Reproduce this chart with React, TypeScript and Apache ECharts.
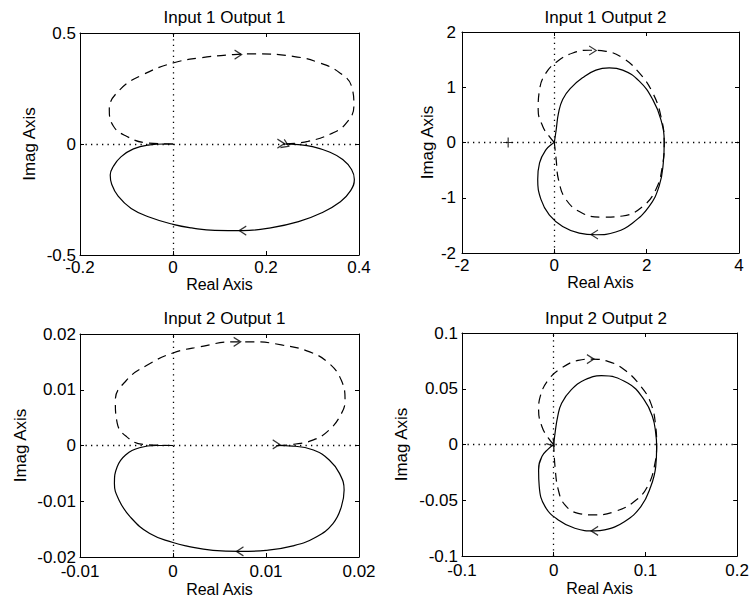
import React, { useEffect, useRef } from "react";
import * as echarts from "echarts";

// ---------- text ----------
const panelTitles = ["Input 1 Output 1", "Input 1 Output 2", "Input 2 Output 1", "Input 2 Output 2"];
const xAxisName = "Real Axis";
const yAxisName = "Imag Axis";

// ---------- axis ranges [min, max, interval] ----------
const xRanges = [
  [-0.2, 0.4, 0.2],
  [-2, 4, 2],
  [-0.01, 0.02, 0.01],
  [-0.1, 0.2, 0.1],
];
const yRanges = [
  [-0.5, 0.5, 0.5],
  [-2, 2, 1],
  [-0.02, 0.02, 0.01],
  [-0.1, 0.1, 0.05],
];

// ---------- Input 1 Output 1 ----------
const solid11 = [
  [0.237, 0], [0.27, -0.003], [0.3, -0.012], [0.335, -0.035], [0.365, -0.07], [0.384, -0.115],
  [0.39, -0.16], [0.382, -0.21], [0.36, -0.26], [0.32, -0.31], [0.27, -0.35], [0.21, -0.378],
  [0.15, -0.39], [0.09, -0.389], [0.04, -0.378], [0, -0.362], [-0.05, -0.33], [-0.09, -0.29],
  [-0.118, -0.235], [-0.132, -0.18], [-0.135, -0.14], [-0.128, -0.1], [-0.112, -0.058],
  [-0.085, -0.022], [-0.05, -0.004], [-0.02, 0], [0, 0],
];
const dashed11 = [
  [0, 0], [-0.057, 0.005], [-0.1, 0.035], [-0.128, 0.08], [-0.137, 0.155], [-0.114, 0.245],
  [-0.064, 0.313], [0, 0.365], [0.058, 0.388], [0.13, 0.403], [0.173, 0.406], [0.258, 0.395],
  [0.316, 0.365], [0.359, 0.32], [0.384, 0.26], [0.389, 0.17], [0.373, 0.095], [0.344, 0.05],
  [0.29, 0.012], [0.237, 0],
];
const arrows11 = [[0.14, 0.403], [0.15, -0.39], [0.232, 0.002], [0.242, -0.004]];
const arrowDirs11 = [0, 180, 0, -25];

// ---------- Input 1 Output 2 ----------
const solid12 = [
  [0, 0], [0.04, 0.23], [0.09, 0.53], [0.18, 0.78], [0.36, 0.99], [0.61, 1.17], [0.9, 1.31],
  [1.19, 1.35], [1.48, 1.31], [1.84, 1.11], [2.13, 0.78], [2.31, 0.41], [2.38, 0],
  [2.36, -0.37], [2.27, -0.79], [2.05, -1.16], [1.69, -1.46], [1.33, -1.62], [0.9, -1.67],
  [0.54, -1.64], [0.18, -1.52], [-0.11, -1.31], [-0.29, -1.03], [-0.36, -0.67], [-0.32, -0.37],
  [-0.18, -0.13], [-0.04, -0.02], [0, 0],
];
const dashed12 = [
  [0, 0], [-0.11, 0.11], [-0.25, 0.29], [-0.35, 0.59], [-0.32, 0.96], [-0.18, 1.26], [0.07, 1.47],
  [0.4, 1.62], [0.76, 1.67], [1.12, 1.65], [1.48, 1.53], [1.84, 1.26], [2.13, 0.9], [2.31, 0.47],
  [2.38, 0], [2.34, -0.43], [2.2, -0.85], [1.91, -1.16], [1.48, -1.33], [1.05, -1.35],
  [0.61, -1.28], [0.25, -1.03], [0.09, -0.67], [0.04, -0.31], [0, 0],
];
const arrows12 = [[0.83, 1.665], [0.87, -1.665]];
const arrowDirs12 = [0, 180];
const criticalPoint = [[-1, 0]];

// ---------- Input 2 Output 1 ----------
const solid21 = [
  [0.0111, 0], [0.0129, -0.0001], [0.0151, -0.0008], [0.0168, -0.0026], [0.0179, -0.005],
  [0.0184, -0.008], [0.0181, -0.011], [0.0172, -0.014], [0.0154, -0.0164], [0.0129, -0.018],
  [0.01, -0.0188], [0.0072, -0.019], [0.0043, -0.0188], [0.0014, -0.018], [0, -0.0174],
  [-0.0025, -0.0158], [-0.0046, -0.0128], [-0.0058, -0.0098], [-0.0063, -0.0068],
  [-0.006, -0.0038], [-0.0051, -0.0017], [-0.0036, -0.0004], [-0.0018, 0], [0, 0],
];
const dashed21 = [
  [0, 0], [-0.0032, 0.0002], [-0.005, 0.0016], [-0.006, 0.004], [-0.0062, 0.0081],
  [-0.005, 0.0117], [-0.0028, 0.0144], [0, 0.0166], [0.0029, 0.0177], [0.0065, 0.0186],
  [0.0086, 0.0186], [0.0118, 0.018], [0.0147, 0.0168], [0.0168, 0.0147], [0.0181, 0.0117],
  [0.0185, 0.0081], [0.0181, 0.0057], [0.0168, 0.0028], [0.0151, 0.001], [0.0129, 0.0002],
  [0.0111, 0],
];
const arrows21 = [[0.0069, 0.0186], [0.0072, -0.019], [0.0111, 0.0002]];
const arrowDirs21 = [0, 180, 0];

// ---------- Input 2 Output 2 ----------
const solid22 = [
  [0, 0], [0.0014, 0.01], [0.0043, 0.025], [0.0086, 0.037], [0.019, 0.049], [0.034, 0.058],
  [0.052, 0.0617], [0.0806, 0.0551], [0.0986, 0.0401], [0.1076, 0.0251], [0.1112, 0.0102],
  [0.1122, -0.0018], [0.1112, -0.0198], [0.1058, -0.0377], [0.095, -0.0557], [0.077, -0.0692],
  [0.0554, -0.0766], [0.0446, -0.0775], [0.023, -0.0751], [0.005, -0.0677], [-0.0094, -0.0557],
  [-0.0158, -0.0377], [-0.0165, -0.0228], [-0.0129, -0.0108], [-0.0058, -0.0039], [0, 0],
];
const dashed22 = [
  [0, 0], [-0.0058, 0.0057], [-0.0129, 0.0162], [-0.0165, 0.0311], [-0.0147, 0.0431],
  [-0.0058, 0.0581], [0.0086, 0.0686], [0.0266, 0.0754], [0.041, 0.0766], [0.059, 0.0746],
  [0.077, 0.0671], [0.095, 0.0521], [0.1058, 0.0371], [0.1112, 0.0162], [0.1122, 0],
  [0.1104, -0.0168], [0.1022, -0.0377], [0.0878, -0.0512], [0.0662, -0.0602], [0.0446, -0.0632],
  [0.0266, -0.0617], [0.0122, -0.0542], [0.005, -0.0407], [0.0014, -0.0198], [0, 0],
];
const arrows22 = [[0.04, 0.0766], [0.0446, -0.0775], [-0.002, 0.001]];
const arrowDirs22 = [0, 180, -50];

const solids = [solid11, solid12, solid21, solid22];
const dasheds = [dashed11, dashed12, dashed21, dashed22];
const arrowPts = [arrows11, arrows12, arrows21, arrows22];
const arrowDirs = [arrowDirs11, arrowDirs12, arrowDirs21, arrowDirs22];

// ---------- layout ----------
const FONT = "'Liberation Sans', Arial, Helvetica, sans-serif";
const grids = [
  { left: 80, top: 33, width: 279, height: 222 },
  { left: 462, top: 32, width: 277, height: 221 },
  { left: 80, top: 334, width: 279, height: 223 },
  { left: 462, top: 333, width: 278, height: 223 },
];
const titleTops = [4, 4, 305, 305];
const yLabelMargins = [4, 6, 4, 4];
const yNameGaps = [42, 26, 51, 52];
const xLabelMargins = [4, 4, 6, 6];
const xNameGaps = [12, 12, 24, 24];

const ARROW = "path://M0,0L10,5L0,10";
const PLUS = "path://M5,0L5,10M0,5L10,5";

export default function App() {
  const ref = useRef<HTMLDivElement>(null);

  useEffect(() => {
    if (!ref.current) return;
    const chart = echarts.init(ref.current, undefined, { renderer: "svg" });

    const xAxes: any[] = [];
    const yAxes: any[] = [];
    const series: any[] = [];
    const titles: any[] = [];

    grids.forEach((g, i) => {
      const [xmin, xmax, xint] = xRanges[i];
      const [ymin, ymax, yint] = yRanges[i];
      const tick = { show: true, inside: true, length: 4, lineStyle: { color: "#000", width: 1 } };
      const line = { show: true, onZero: false, lineStyle: { color: "#000", width: 1 } };
      titles.push({
        text: panelTitles[i],
        left: g.left + g.width / 2,
        top: titleTops[i],
        textAlign: "center",
        textStyle: { fontSize: 17, fontWeight: "normal", color: "#000", fontFamily: FONT },
      });
      xAxes.push({
        type: "value", gridIndex: i, position: "bottom", min: xmin, max: xmax, interval: xint,
        axisLine: line, axisTick: tick, splitLine: { show: false },
        axisLabel: { color: "#000", fontSize: 17, fontFamily: FONT, margin: xLabelMargins[i] },
        name: xAxisName, nameLocation: "middle", nameGap: xNameGaps[i],
        nameTextStyle: { color: "#000", fontSize: 16, fontFamily: FONT },
      });
      xAxes.push({
        type: "value", gridIndex: i, position: "top", min: xmin, max: xmax, interval: xint,
        axisLine: line, axisTick: tick, splitLine: { show: false }, axisLabel: { show: false },
      });
      yAxes.push({
        type: "value", gridIndex: i, position: "left", min: ymin, max: ymax, interval: yint,
        axisLine: line, axisTick: tick, splitLine: { show: false },
        axisLabel: { color: "#000", fontSize: 17, fontFamily: FONT, margin: yLabelMargins[i] },
        name: yAxisName, nameLocation: "middle", nameGap: yNameGaps[i],
        nameTextStyle: { color: "#000", fontSize: 17, fontFamily: FONT },
      });
      yAxes.push({
        type: "value", gridIndex: i, position: "right", min: ymin, max: ymax, interval: yint,
        axisLine: line, axisTick: tick, splitLine: { show: false }, axisLabel: { show: false },
      });

      const xi = 2 * i;
      const yi = 2 * i;
      series.push({
        type: "line", xAxisIndex: xi, yAxisIndex: yi, data: solids[i], smooth: 0.45,
        showSymbol: false, silent: true, z: 3,
        lineStyle: { color: "#000", width: 1.2, type: "solid" },
        markLine: {
          silent: true, symbol: ["none", "none"], label: { show: false },
          lineStyle: { color: "#000", width: 1.3, type: [1.3, 4.2] },
          data: [{ xAxis: 0 }, { yAxis: 0 }],
          z: 1,
        },
      });
      series.push({
        type: "line", xAxisIndex: xi, yAxisIndex: yi, data: dasheds[i], smooth: 0.45,
        showSymbol: false, silent: true, z: 3,
        lineStyle: { color: "#000", width: 1.2, type: [9, 6] },
      });
      series.push({
        type: "scatter", xAxisIndex: xi, yAxisIndex: yi, silent: true, z: 4,
        symbol: ARROW, symbolSize: [7, 9], symbolKeepAspect: false,
        itemStyle: { color: "rgba(0,0,0,0)", borderColor: "#000", borderWidth: 1.2 },
        data: arrowPts[i].map((p, k) => ({ value: p, symbolRotate: arrowDirs[i][k] })),
      });
      if (i === 1) {
        series.push({
          type: "scatter", xAxisIndex: xi, yAxisIndex: yi, silent: true, z: 4,
          symbol: PLUS, symbolSize: [10, 10],
          itemStyle: { color: "rgba(0,0,0,0)", borderColor: "#000", borderWidth: 1.2 },
          data: criticalPoint,
        });
      }
    });

    chart.setOption({
      animation: false,
      backgroundColor: "#fff",
      textStyle: { fontFamily: FONT, color: "#000" },
      title: titles,
      grid: grids.map((g) => ({ ...g, containLabel: false, show: false })),
      xAxis: xAxes,
      yAxis: yAxes,
      series,
    });

    return () => chart.dispose();
  }, []);

  return (
    <div
      ref={ref}
      style={{ position: "absolute", left: 0, top: 0, width: 752, height: 606, background: "#fff" }}
    />
  );
}
